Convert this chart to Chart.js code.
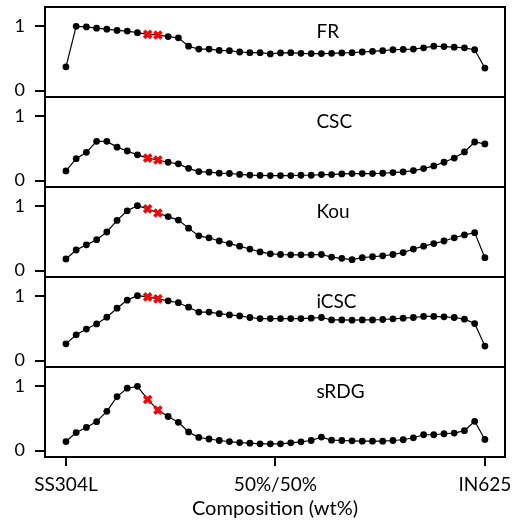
<!DOCTYPE html>
<html><head><meta charset="utf-8">
<script src="https://cdn.jsdelivr.net/npm/chart.js@4.4.0/dist/chart.umd.min.js"></script>
<style>html,body{margin:0;padding:0;background:#fff}#wrap{width:512px;height:528px}</style>
</head><body><div id="wrap"><canvas id="c" width="512" height="528"></canvas></div>
<script>
// Composition steps (wt% IN625), 42 samples
const composition = [0,2.44,4.88,7.32,9.76,12.2,14.63,17.07,19.51,21.95,24.39,26.83,29.27,31.71,34.15,36.59,39.02,41.46,43.9,46.34,48.78,51.22,53.66,56.1,58.54,60.98,63.41,65.85,68.29,70.73,73.17,75.61,78.05,80.49,82.93,85.37,87.8,90.24,92.68,95.12,97.56,100];
const panelNames = ['FR','CSC','Kou','iCSC','sRDG'];
const xTickValues = [0,50,100];
const xTickLabels = ['SS304L','50%/50%','IN625'];
const yTickValues = [0,1];
const highlightIdx = [8,9];

const FR   = [0.37,1.00,0.99,0.97,0.955,0.935,0.925,0.90,0.875,0.865,0.84,0.82,0.69,0.645,0.645,0.625,0.62,0.60,0.59,0.59,0.57,0.585,0.59,0.58,0.575,0.575,0.58,0.585,0.59,0.60,0.61,0.62,0.635,0.64,0.645,0.665,0.69,0.685,0.675,0.665,0.635,0.35];
const CSC  = [0.15,0.34,0.44,0.61,0.61,0.52,0.46,0.40,0.35,0.32,0.285,0.26,0.19,0.14,0.13,0.115,0.11,0.095,0.085,0.08,0.078,0.078,0.078,0.083,0.083,0.093,0.093,0.104,0.109,0.109,0.109,0.114,0.124,0.135,0.155,0.187,0.228,0.285,0.35,0.445,0.60,0.57];
const Kou  = [0.18,0.32,0.40,0.48,0.60,0.78,0.93,1.01,0.96,0.895,0.84,0.785,0.66,0.54,0.51,0.46,0.42,0.38,0.335,0.29,0.26,0.25,0.245,0.245,0.245,0.25,0.21,0.19,0.17,0.20,0.215,0.23,0.25,0.28,0.335,0.38,0.42,0.46,0.51,0.555,0.59,0.20];
const iCSC = [0.26,0.40,0.49,0.57,0.675,0.815,0.94,1.01,0.99,0.96,0.93,0.90,0.83,0.755,0.755,0.73,0.71,0.695,0.67,0.654,0.654,0.654,0.654,0.654,0.66,0.67,0.633,0.633,0.628,0.633,0.633,0.639,0.649,0.66,0.67,0.686,0.686,0.68,0.67,0.644,0.576,0.225];
const sRDG = [0.14,0.28,0.36,0.45,0.61,0.84,0.97,1.00,0.795,0.63,0.53,0.44,0.29,0.205,0.18,0.157,0.14,0.125,0.115,0.105,0.105,0.105,0.12,0.136,0.157,0.21,0.162,0.157,0.152,0.146,0.146,0.146,0.157,0.168,0.199,0.246,0.246,0.262,0.272,0.309,0.455,0.173];

const series = [FR, CSC, Kou, iCSC, sRDG];
const yIds = ['y0','y1','y2','y3','y4'];
const FONT = 'Lato';
const isHi = ctx => highlightIdx.includes(ctx.dataIndex);

const scales = {
  x: {
    type: 'linear', min: -5, max: 104.8,
    afterBuildTicks: s => { s.ticks = xTickValues.map(v => ({value: v})); },
    ticks: { callback: (v, i) => xTickLabels[i], color: '#000', font: {family: FONT, size: 19}, padding: 7, maxRotation: 0, autoSkip: false },
    grid: { drawOnChartArea: false, drawTicks: true, tickLength: 9, color: '#000', lineWidth: 2 },
    border: { display: false },
    title: { display: true, text: 'Composition (wt%)', color: '#000', font: {family: FONT, size: 20}, padding: {top: 0, bottom: 7} },
    afterFit: s => { s.height = 71; s.paddingLeft = 0; s.paddingRight = 0; }
  }
};
yIds.forEach((id, k) => {
  scales[id] = {
    type: 'linear', position: 'left', stack: 'panels', stackWeight: 1, weight: 5 - k, offset: false,
    min: -0.1, max: 1.3,
    afterBuildTicks: s => { s.ticks = yTickValues.map(v => ({value: v})); },
    ticks: { color: '#000', font: {family: FONT, size: 18}, padding: 10, callback: v => String(v) },
    grid: { drawOnChartArea: false, drawTicks: true, tickLength: 10, color: '#000', lineWidth: 2 },
    border: { display: false },
    afterFit: s => { s.width = 45; s.paddingTop = 0; s.paddingBottom = 0; }
  };
});

const framePlugin = {
  id: 'frames',
  afterDatasetsDraw(chart) {
    const {ctx, chartArea} = chart;
    ctx.save();
    ctx.strokeStyle = '#000';
    ctx.lineWidth = 2;
    ctx.fillStyle = '#000';
    ctx.font = '19px ' + FONT;
    ctx.textAlign = 'left';
    ctx.textBaseline = 'alphabetic';
    yIds.forEach((id, k) => {
      const s = chart.scales[id];
      ctx.strokeRect(chartArea.left, s.top, chartArea.right - chartArea.left, s.bottom - s.top);
      ctx.fillText(panelNames[k], chartArea.left + 0.59 * (chartArea.right - chartArea.left), s.top + 31);
    });
    ctx.restore();
  }
};

new Chart(document.getElementById('c'), {
  type: 'line',
  data: {
    labels: composition,
    datasets: series.map((d, k) => ({
      label: panelNames[k],
      data: d,
      yAxisID: yIds[k],
      borderColor: '#000',
      borderWidth: 1.2,
      fill: false,
      tension: 0,
      pointRadius: ctx => isHi(ctx) ? 5 : 3.4,
      pointStyle: ctx => isHi(ctx) ? 'crossRot' : 'circle',
      pointBackgroundColor: ctx => isHi(ctx) ? '#ff0000' : '#000',
      pointBorderColor: ctx => isHi(ctx) ? '#ff0000' : '#000',
      pointBorderWidth: ctx => isHi(ctx) ? 3.6 : 0
    }))
  },
  options: {
    responsive: false,
    animation: false,
    devicePixelRatio: 1,
    layout: { padding: { top: 7, right: 7, left: 0, bottom: 0 } },
    plugins: { legend: { display: false }, tooltip: { enabled: false } },
    scales: scales
  },
  plugins: [framePlugin]
});
</script>
</body></html>
